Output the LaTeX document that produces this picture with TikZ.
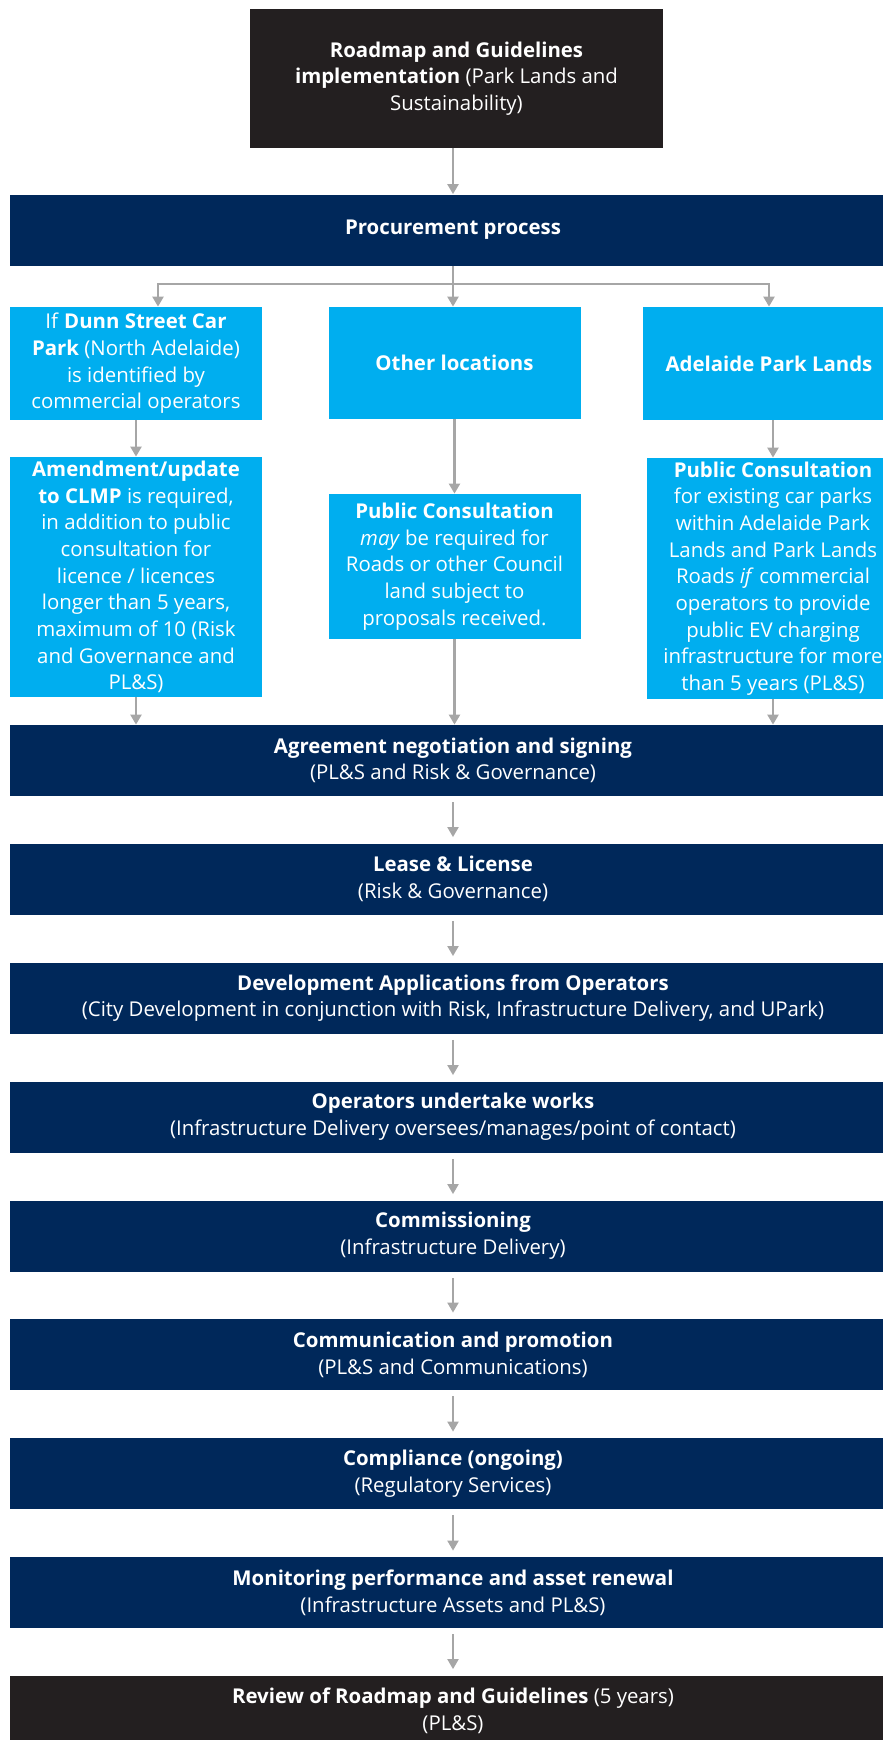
\documentclass[tikz,border=0pt]{standalone}
\usepackage{fontspec}
\setmainfont{Open Sans}
\usetikzlibrary{arrows.meta}
\definecolor{roadmapblack}{HTML}{231F20}
\definecolor{stagenavy}{HTML}{00285A}
\definecolor{sitecyan}{HTML}{00AEEF}
\definecolor{linkgray}{HTML}{A6A6A6}

\tikzset{
	every node/.style={font=\fontsize{10.2}{13.35}\selectfont, text=white, align=center, inner sep=0pt},
	endbox/.style={fill=roadmapblack},
	stagebox/.style={fill=stagenavy, minimum width=443pt, minimum height=35.5pt},
	sitebox/.style={fill=sitecyan, minimum width=126pt},
	link/.style={draw=linkgray, line width=1.2pt, -{Triangle[width=5.5pt,length=5pt]}},
	gaplink/.style={link, line width=1pt, shorten <=3pt, shorten >=3pt}
}

\begin{document}
\begin{tikzpicture}[x=0.5pt, y=-0.5pt]
		\useasboundingbox (0,0) rectangle (883,1740);
		\clip (0,0) rectangle (883,1740);
		\path
		node[endbox, minimum width=206.5pt, minimum height=69.5pt] (roadmap) at (456.5, 78.5){\textbf{Roadmap and Guidelines}\\\textbf{implementation} (Park Lands and\\Sustainability)}
		node[stagebox] (procure) at (453, 230){\textbf{Procurement process}}
		node[sitebox, minimum height=56.5pt] (dunn) at (136, 363.5){If \textbf{Dunn Street Car}\\\textbf{Park} (North Adelaide)\\is identified by\\commercial operators}
		node[sitebox, minimum height=56pt] (other) at (454.5, 363){\textbf{Other locations}}
		node[sitebox, minimum height=56.5pt] (parks) at (769, 363.5){\textbf{Adelaide Park Lands}}
		node[sitebox, minimum height=120pt] (clmp) at (136, 577){\textbf{Amendment/update}\\\textbf{to CLMP} is required,\\in addition to public\\consultation for\\licence / licences\\longer than 5 years,\\maximum of 10 (Risk\\and Governance and\\PL\&S)}
		node[sitebox, minimum height=72.5pt] (consultmid) at (454.5, 566.5){\textbf{Public Consultation}\\\textit{may} be required for\\Roads or other Council\\land subject to\\proposals received.}
		node[sitebox, minimum height=120.5pt] (consultpark) at (773, 578.5){\textbf{Public Consultation}\\for existing car parks\\within Adelaide Park\\Lands and Park Lands\\Roads \textit{if} commercial\\operators to provide\\public EV charging\\infrastructure for more\\than 5 years (PL\&S)}
		node[stagebox] (agree) at (453, 760.5){\textbf{Agreement negotiation and signing}\\(PL\&S and Risk \& Governance)}
		node[stagebox] (lease) at (453, 879){\textbf{Lease \& License}\\(Risk \& Governance)}
		node[stagebox] (devapp) at (453, 998){\textbf{Development Applications from Operators}\\(City Development in conjunction with Risk, Infrastructure Delivery, and UPark)}
		node[stagebox] (works) at (453, 1117){\textbf{Operators undertake works}\\(Infrastructure Delivery oversees/manages/point of contact)}
		node[stagebox] (commission) at (453, 1236){\textbf{Commissioning}\\(Infrastructure Delivery)}
		node[stagebox] (promo) at (453, 1354.5){\textbf{Communication and promotion}\\(PL\&S and Communications)}
		node[stagebox] (comply) at (453, 1473.5){\textbf{Compliance (ongoing)}\\(Regulatory Services)}
		node[stagebox] (monitor) at (453, 1592.5){\textbf{Monitoring performance and asset renewal}\\(Infrastructure Assets and PL\&S)}
		node[stagebox, endbox] (review) at (453, 1711){\textbf{Review of Roadmap and Guidelines} (5 years)\\(PL\&S)};
		\coordinate (split) at (453, 284);
		\draw[link] (roadmap.south -| split) -- (procure.north -| split);
		\draw[link] (procure.south -| split) -- (split |- other.north);
			\draw[link] (split) -| ([xshift=11pt]dunn.north);
			\draw[link] (split) -| (parks.north);
		\draw[link] (dunn) -- (clmp);
		\draw[link] (other) -- (consultmid);
		\draw[link] (parks.south -| consultpark) -- (consultpark);
		\draw[link] (clmp) -- (clmp.south |- agree.north);
		\draw[link] (consultmid) -- (consultmid.south |- agree.north);
		\draw[link] (consultpark) -- (consultpark.south |- agree.north);
		\draw[gaplink] (agree) -- (lease);
		\draw[gaplink] (lease) -- (devapp);
		\draw[gaplink] (devapp) -- (works);
		\draw[gaplink] (works) -- (commission);
		\draw[gaplink] (commission) -- (promo);
		\draw[gaplink] (promo) -- (comply);
		\draw[gaplink] (comply) -- (monitor);
		\draw[gaplink] (monitor) -- (review);
\end{tikzpicture}
\end{document}
